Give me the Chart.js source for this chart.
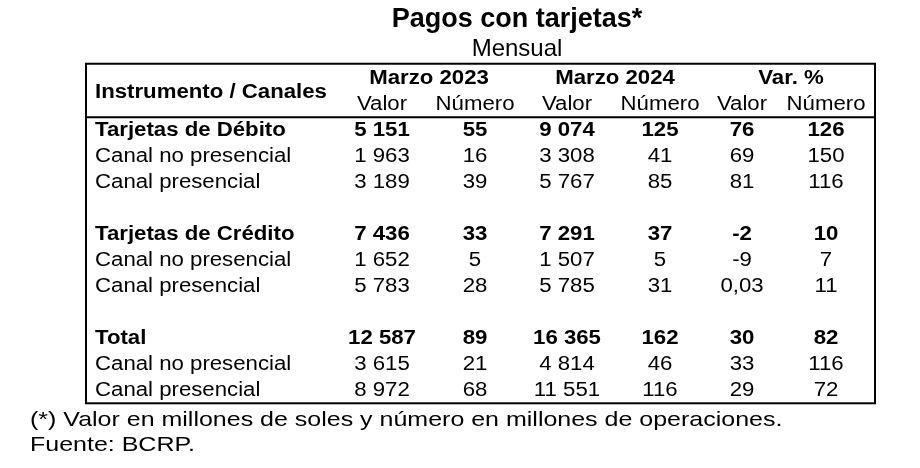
<!DOCTYPE html>
<html>
<head>
<meta charset="utf-8">
<script src="https://cdn.jsdelivr.net/npm/chart.js@4/dist/chart.umd.min.js"></script>
<style>
  html, body { margin: 0; padding: 0; background: #fff; }
  #wrap { width: 920px; height: 468px; }
</style>
</head>
<body>
<div id="wrap"><canvas id="myChart"></canvas></div>
<script>
// filas de la tabla
const categories = ['Tarjetas de Débito', 'Canal no presencial', 'Canal presencial',
    'Tarjetas de Crédito', 'Canal no presencial', 'Canal presencial',
    'Total', 'Canal no presencial', 'Canal presencial'];
const boldRows = [true, false, false, true, false, false, true, false, false];
const periods = ['Marzo 2023', 'Marzo 2024', 'Var. %'];
const measures = ['Valor', 'Número'];

const valor2023 = [5151, 1963, 3189, 7436, 1652, 5783, 12587, 3615, 8972];
const numero2023 = [55, 16, 39, 33, 5, 28, 89, 21, 68];
const valor2024 = [9074, 3308, 5767, 7291, 1507, 5785, 16365, 4814, 11551];
const numero2024 = [125, 41, 85, 37, 5, 31, 162, 46, 116];
const varValor = [76, 69, 81, -2, -9, 0.03, 30, 33, 29];
const varNumero = [126, 150, 116, 10, 7, 11, 82, 116, 72];

const notes = ['(*) Valor en millones de soles y número en millones de operaciones.', 'Fuente: BCRP.'];

// disposición (no son datos)
const layout = {
    padLeft: 114,
    rowOf: [2, 3, 4, 6, 7, 8, 10, 11, 12],
    labelX: 95,
    colX: [382, 475, 567, 660, 742, 826],
    groupX: [429, 615, 791],
    groupRow: 0,
    measureRow: 1,
    cornerRow: 0.55,
    table: { left: 86, right: 875, top: -0.56, rule: 1.5, bottom: 12.5 },
    noteX: 30,
    noteRows: [13.15, 14.1]
};

const FONT = '"Liberation Sans", Arial, sans-serif';
const SIZE = 20;
const STRETCH = 1.11;
const NOTE_SIZE = 21;
const NOTE_STRETCH = 1.19;

function fmt(v) {
    if (Number.isInteger(v)) {
        const s = String(Math.abs(v)).replace(/\B(?=(\d{3})+(?!\d))/g, ' ');
        return (v < 0 ? '-' : '') + s;
    }
    return v.toFixed(2).replace('.', ',');
}

function drawText(ctx, text, x, y, align, bold, size, stretch) {
    ctx.save();
    ctx.font = (bold ? 'bold ' : '') + (size || SIZE) + 'px ' + FONT;
    ctx.fillStyle = '#000';
    ctx.textBaseline = 'middle';
    ctx.textAlign = align;
    ctx.translate(x, y);
    ctx.scale(stretch || STRETCH, 1);
    ctx.fillText(text, 0, 0);
    ctx.restore();
}

const series = [valor2023, numero2023, valor2024, numero2024, varValor, varNumero];

const datasets = [{
    label: 'Instrumento / Canales',
    align: 'left',
    data: categories.map((t, i) => ({ x: layout.labelX, y: layout.rowOf[i], t: t, b: boldRows[i] })),
    pointRadius: 0
}];
series.forEach((vals, c) => {
    datasets.push({
        label: periods[Math.floor(c / 2)] + ' ' + measures[c % 2],
        align: 'center',
        data: vals.map((v, i) => ({ x: layout.colX[c], y: layout.rowOf[i], t: fmt(v), b: boldRows[i] })),
        pointRadius: 0
    });
});

const tablePlugin = {
    id: 'tabla',
    afterDatasetsDraw(chart) {
        const ctx = chart.ctx;
        const xs = chart.scales.x, ys = chart.scales.y;
        const tb = layout.table;

        // marco y línea de cabecera
        ctx.save();
        ctx.strokeStyle = '#000';
        ctx.lineWidth = 2;
        const l = xs.getPixelForValue(tb.left), r = xs.getPixelForValue(tb.right);
        const t = ys.getPixelForValue(tb.top), b = ys.getPixelForValue(tb.bottom);
        ctx.strokeRect(l, t, r - l, b - t);
        const h = ys.getPixelForValue(tb.rule);
        ctx.beginPath();
        ctx.moveTo(l, h);
        ctx.lineTo(r, h);
        ctx.stroke();
        ctx.restore();

        // cabeceras
        drawText(ctx, 'Instrumento / Canales', xs.getPixelForValue(layout.labelX), ys.getPixelForValue(layout.cornerRow), 'left', true);
        periods.forEach((p, k) => {
            drawText(ctx, p, xs.getPixelForValue(layout.groupX[k]), ys.getPixelForValue(layout.groupRow), 'center', true);
        });
        layout.colX.forEach((cx, c) => {
            drawText(ctx, measures[c % 2], xs.getPixelForValue(cx), ys.getPixelForValue(layout.measureRow), 'center', false);
        });

        // celdas
        chart.data.datasets.forEach((ds, di) => {
            const meta = chart.getDatasetMeta(di);
            meta.data.forEach((el, i) => {
                const d = ds.data[i];
                drawText(ctx, d.t, el.x, el.y, ds.align, d.b);
            });
        });

        // notas
        notes.forEach((n, k) => {
            drawText(ctx, n, xs.getPixelForValue(layout.noteX), ys.getPixelForValue(layout.noteRows[k]), 'left', false, NOTE_SIZE, NOTE_STRETCH);
        });
    }
};

const config = {
    type: 'scatter',
    data: { datasets: datasets },
    options: {
        responsive: true,
        maintainAspectRatio: false,
        animation: false,
        events: [],
        layout: { padding: { left: layout.padLeft, right: 0, top: 0, bottom: 0 } },
        scales: {
            x: { type: 'linear', min: layout.padLeft, max: 920, display: false },
            y: { type: 'linear', reverse: true, min: -0.542, max: 14.989, display: false }
        },
        plugins: {
            legend: { display: false },
            tooltip: { enabled: false },
            title: {
                display: true,
                text: 'Pagos con tarjetas*',
                color: '#000',
                font: { family: FONT, size: 27, weight: 'bold' },
                padding: { top: 3, bottom: 0 }
            },
            subtitle: {
                display: true,
                text: 'Mensual',
                color: '#000',
                font: { family: FONT, size: 24, weight: 'normal' },
                padding: { top: 0, bottom: 0 }
            }
        }
    },
    plugins: [tablePlugin]
};

var tableChart = new Chart(document.getElementById('myChart'), config);
</script>
</body>
</html>
